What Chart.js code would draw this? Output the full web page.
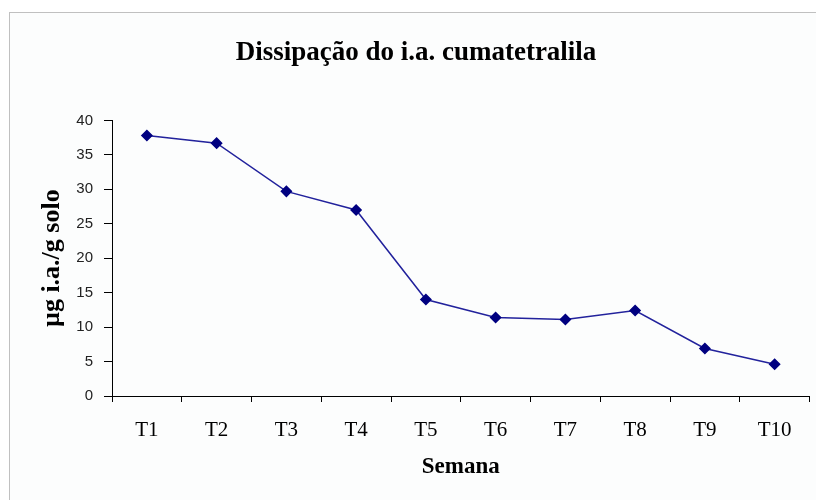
<!DOCTYPE html>
<html>
<head>
<meta charset="utf-8">
<script src="https://cdn.jsdelivr.net/npm/chart.js@4/dist/chart.umd.min.js"></script>
<style>
  html, body { margin: 0; padding: 0; background: #ffffff; }
  #wrap { position: relative; width: 816px; height: 500px; overflow: hidden; }
  #frame {
    position: absolute; left: 9px; top: 12px; width: 900px; height: 600px;
    border-left: 1px solid #c0c0c0; border-top: 1px solid #c0c0c0;
    background: #fcfdfd;
  }
  #chart { position: absolute; left: 0; top: 0; }
</style>
</head>
<body>
<div id="wrap">
  <div id="frame"></div>
  <canvas id="chart" width="816" height="500"></canvas>
</div>
<script>
// Data
const weeks = ["T1", "T2", "T3", "T4", "T5", "T6", "T7", "T8", "T9", "T10"];
const residue = [37.8, 36.7, 29.7, 27.0, 14.0, 11.4, 11.1, 12.4, 6.9, 4.6];

const yMin = 0;
const yMax = 40;
const yStep = 5;

const chartTitle = "Dissipação do i.a. cumatetralila";
const yTitle = "µg i.a./g solo";
const xTitle = "Semana";

// ---------- Chart ----------

const serif = "'Liberation Serif', 'Times New Roman', serif";
const sans = "'Liberation Sans', Arial, sans-serif";

// left padding pushes the title centre to where the reference has it;
// the y axis box is shrunk by the same amount so the plot stays at x=112
const padLeft = 19;

new Chart(document.getElementById("chart").getContext("2d"), {
  type: "line",
  data: {
    labels: weeks,
    datasets: [
      {
        data: residue,
        borderColor: "#22229c",
        borderWidth: 1.5,
        backgroundColor: "#000080",
        pointBackgroundColor: "#000080",
        pointBorderColor: "#000080",
        pointStyle: "rectRot",
        pointRadius: 5,
        tension: 0,
        fill: false,
      },
    ],
  },
  options: {
    responsive: false,
    animation: false,
    layout: { padding: { left: padLeft, right: 3, top: 0, bottom: 0 } },
    plugins: {
      legend: { display: false },
      tooltip: { enabled: false },
      title: {
        display: true,
        text: chartTitle,
        color: "#000",
        font: { family: serif, size: 27, weight: "bold", lineHeight: 1.2 },
        padding: { top: 37, bottom: 51 },
      },
    },
    scales: {
      x: {
        offset: true,
        grid: {
          offset: true,
          drawOnChartArea: false,
          drawTicks: true,
          tickLength: 6,
          color: "#000",
        },
        border: { display: true, color: "#000", width: 1 },
        ticks: {
          color: "#000",
          padding: 16,
          font: { family: serif, size: 21 },
          maxRotation: 0,
        },
        title: {
          display: true,
          text: xTitle,
          color: "#000",
          font: { family: serif, size: 23, weight: "bold", lineHeight: 1.2 },
          padding: { top: 0, bottom: 19 },
        },
        afterFit: (scale) => {
          scale.height = 104;
        },
      },
      y: {
        min: yMin,
        max: yMax,
        grid: {
          drawOnChartArea: false,
          drawTicks: true,
          tickLength: 8,
          color: "#000",
        },
        border: { display: true, color: "#000", width: 1 },
        ticks: {
          stepSize: yStep,
          color: "#222",
          padding: 11,
          font: { family: sans, size: 15 },
        },
        title: {
          display: true,
          text: yTitle,
          color: "#000",
          font: { family: serif, size: 26, weight: "bold", lineHeight: 1.2 },
          padding: { top: 37 - padLeft, bottom: 0 },
        },
        afterFit: (scale) => {
          scale.width = 112 - padLeft;
        },
      },
    },
  },
});
</script>
</body>
</html>
